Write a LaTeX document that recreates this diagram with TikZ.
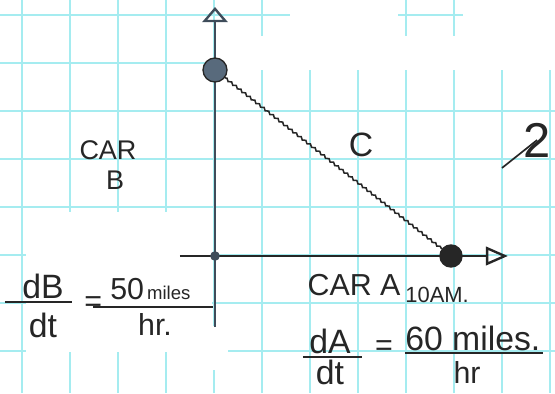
\documentclass[tikz,border=0pt]{standalone}
\usepackage{fontspec}
\setmainfont{Liberation Sans}
\usetikzlibrary{arrows.meta,decorations.pathmorphing,positioning}
\definecolor{gridcyan}{RGB}{165,236,240}
\definecolor{inkdark}{RGB}{38,38,38}
\definecolor{inkslate}{RGB}{62,76,90}
\definecolor{dotslate}{RGB}{88,106,124}

\begin{document}
\begin{tikzpicture}[>=Stealth,
  hand/.style={inkdark,inner sep=0pt,font=\fontsize{#1}{#1}\selectfont},
  hand/.default=18,
  gridline/.style={gridcyan,line width=1.1pt},
  axisline/.style={inkslate,line width=1.6pt},
  fracbar/.style={inkdark,line width=1.1pt},
  wavy/.style={inkdark,line width=0.9pt,decorate,
    decoration={snake,amplitude=0.6pt,segment length=3.5pt}},
  cardot/.style={circle,inner sep=0pt,minimum size=#1,draw=inkdark,line width=0.8pt}]

%% ── paper ────────────────────────────────────────────────────────────────────
\useasboundingbox (0,0) rectangle (11.5625,8.1875);
\fill[white] (0,0) rectangle (11.5625,8.1875);
\foreach \x in {0,...,11}
  \draw[gridline] (\x+0.458,0) -- ++(0,8.1875);
\foreach \y in {0,...,7}
  \draw[gridline] (0,\y+0.875) -- ++(11.5625,0);

%% faded patches of the sheet
\fill[white] (4.625,6.729) rectangle (11.5625,7.4375);
\fill[white] (6.04,7.4375) rectangle (8.29,8.1875);
\fill[white] (9.646,7.4375) rectangle (11.5625,8.1875);
\fill[white] (0.542,0.854) rectangle (4.417,3.771);
\fill[white] (3.958,0.48) rectangle (4.75,1.4);

%% ── axes ─────────────────────────────────────────────────────────────────────
\coordinate (ybot) at (4.479,1.375);
\coordinate (ytop) at (4.479,8.042);
\coordinate (xleft) at (3.75,2.854);
\coordinate (xright) at (10.58,2.854);

\draw[axisline,-{Triangle[open,length=9pt,width=15pt,line width=1.4pt]}]
  (ybot) -- (ytop);
\draw[axisline,inkdark,-{Triangle[open,length=13pt,width=11pt,line width=1.4pt]}]
  (xleft) -- (xright);

%% ── the two cars ─────────────────────────────────────────────────────────────
\node[cardot=0.2cm,fill=inkslate,draw=none] (orig) at (4.479,2.854) {};
\node[cardot=0.5cm,fill=dotslate] (carB) at (4.479,6.729) {};
\node[cardot=0.46cm,fill=inkdark] (carA) at (9.396,2.854) {};

%% distance between them
\draw[wavy] (carB) -- (carA);
\node[hand=20] (hyp) at (7.52,5.17) {C};

\node[hand=16] (carBtop) at (2.25,5.06) {CAR};
\node[hand=16] (carBlbl) at (2.40,4.44) {B};

\node[hand=29] (two) at (11.19,5.27) {2};
\coordinate (twotail) at (10.458,4.688);
\draw[inkdark,line width=1pt] (twotail) -- (two.center);

%% ── rate of car B ────────────────────────────────────────────────────────────
\node[hand=20] (dB) at (0.896,2.229) {dB};
\draw[fracbar] (0.104,1.896) -- (1.5,1.896);
\node[hand=20] (dtB) at (0.896,1.417) {dt};
\node[hand=18] (eqB) at (1.94,1.86) {=};
\node[hand=18,anchor=base west] (numB) at (2.29,1.94)
  {50{\fontsize{11}{11}\selectfont\,miles}};
\draw[fracbar] (1.94,1.792) -- (4.44,1.792);
\node[hand=18] (denB) at (3.23,1.417) {hr.};

%% ── rate of car A ────────────────────────────────────────────────────────────
\node[hand=18] (carAlbl) at (7.375,2.25) {CAR A};
\node[hand=13,anchor=west] (time) at (8.44,2.04) {10AM.};

\node[hand=20] (dA) at (6.875,1.083) {dA};
\draw[fracbar] (6.3125,0.75) -- (7.54,0.75);
\node[hand=20] (dtA) at (6.875,0.4375) {dt};
\node[hand=18] (eqA) at (8.0,0.93) {=};
\node[hand=20,anchor=west] (numA) at (8.4375,1.146) {60 miles.};
\draw[fracbar] (8.4375,0.833) -- (11.3125,0.833);
\node[hand=18] (denA) at (9.73,0.417) {hr};

\end{tikzpicture}
\end{document}
